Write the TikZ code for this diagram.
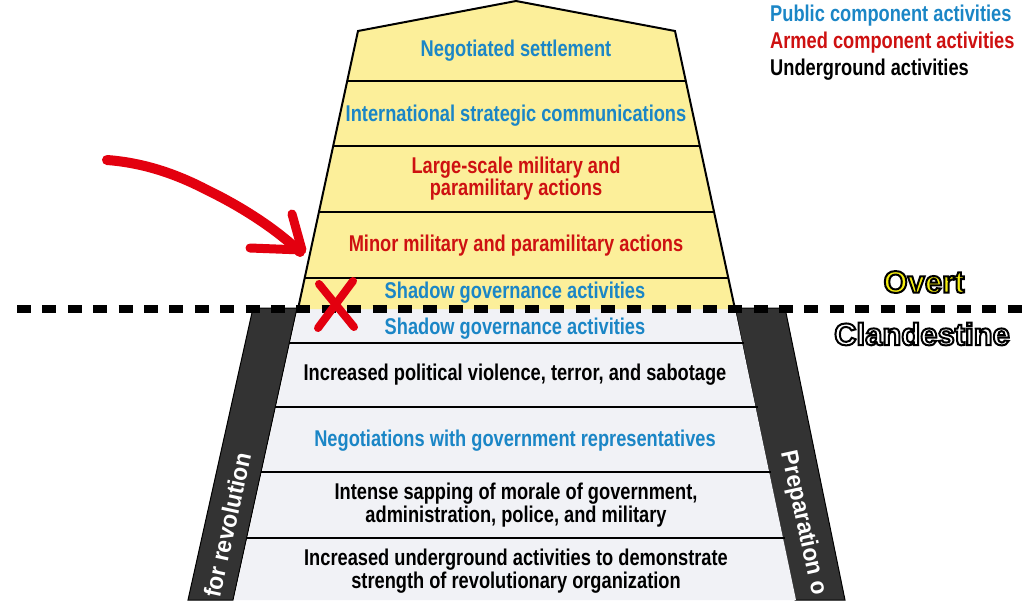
\documentclass[tikz,border=0pt]{standalone}
\usepackage{fontspec}
\setmainfont{Liberation Sans}[FakeStretch=0.8,BoldFont=Liberation Sans Bold]
\newfontfamily\bandfont{Liberation Sans Bold}[FakeStretch=0.95]
\newfontfamily\halofont{Liberation Sans Bold}[FakeStretch=1.0]
\definecolor{pubblue}{HTML}{1B86C6}
\definecolor{armred}{HTML}{CE1111}
\definecolor{inkred}{HTML}{E3000F}
\definecolor{paleyel}{HTML}{FCEF9A}
\definecolor{palegrey}{HTML}{F1F2F6}
\definecolor{darkband}{HTML}{333333}
\definecolor{ovyellow}{HTML}{F5EE10}
\newcommand{\halotext}[2]{\special{pdf:code q 2 Tr #1 w 0 0 0 RG}#2\special{pdf:code Q}}
\tikzset{
  lbl/.style={font=\bfseries\fontsize{22.8}{22.5}\selectfont,align=center,inner sep=0pt},
  pub/.style={lbl,text=pubblue},
  arm/.style={lbl,text=armred},
  und/.style={lbl,text=black},
  legend/.style={lbl,anchor=west},
  rule/.style={line width=1.6pt,black},
  bandtxt/.style={font=\bandfont\fontsize{24}{26}\selectfont,text=white,inner sep=0pt},
  halo/.style={font=\halofont\fontsize{31}{33}\selectfont,inner sep=0pt},
  inkstroke/.style={draw=inkred,line width=9pt,line cap=round,line join=round},
}
\begin{document}
\begin{tikzpicture}[x=1pt,y=-1pt]
\useasboundingbox (0,0) rectangle (1024,600);
\clip (0,0) rectangle (1024,600);
% dark bands
\fill[darkband,draw=black,line width=1pt] (253,308) -- (297,308) -- (233,600) -- (188,600) -- cycle;
\fill[darkband,draw=black,line width=1pt] (735,308) -- (785,308) -- (845,600) -- (795,600) -- cycle;
% lower body
\fill[palegrey] (298,309) -- (735,309) -- (796,600) -- (234,600) -- cycle;
% upper body
\fill[paleyel] (516,1) -- (675,31) -- (735,309) -- (298,309) -- (358,31) -- cycle;
\draw[line width=2pt,line join=miter] (298,309) -- (358,31) -- (516,1) -- (675,31) -- (735,309);
% rules
\draw[rule] (347,81) -- (686,81);
\draw[rule] (333,146) -- (700,146);
\draw[rule] (319,212) -- (714,212);
\draw[rule] (305,278) -- (728,278);
\draw[rule] (289,343) -- (744,343);
\draw[rule] (275,407) -- (758,407);
\draw[rule] (261,472) -- (771,472);
\draw[rule] (247,538) -- (785,538);
% dashed divider
\draw[line width=8pt,black,dash pattern=on 14pt off 11.4pt] (17,309) -- (1024,309);
% stage labels
\node[pub] (n1) at (516,50.5) {Negotiated settlement};
\node[pub] (n2) at (516,115.5) {International strategic communications};
\node[arm] (n3) at (516,178.5) {Large-scale military and\\paramilitary actions};
\node[arm] (n4) at (516,245.5) {Minor military and paramilitary actions};
\node[pub] (n5) at (515,292.5) {Shadow governance activities};
\node[pub] (n6) at (515,328.5) {Shadow governance activities};
\node[und] (n7) at (515,374.5) {Increased political violence, terror, and sabotage};
\node[pub] (n8) at (515,440.5) {Negotiations with government representatives};
\node[und] (n9) at (516,505) {Intense sapping of morale of government,\\administration, police, and military};
\node[und] (n10) at (516,571) {Increased underground activities to demonstrate\\strength of revolutionary organization};
% legend
\node[legend,text=pubblue] (l1) at (770,16) {Public component activities};
\node[legend,text=armred] (l2) at (770,43) {Armed component activities};
\node[legend,text=black] (l3) at (770,70) {Underground activities};
% overt / clandestine
\node[halo,text=ovyellow] (ov) at (924,282) {\halotext{2}{Overt}};
\node[halo,text=white] (cl) at (922,334) {\halotext{2}{Clandestine}};
% band texts
\node[bandtxt,rotate=77.6,anchor=east] (b1) at (243,453) {for revolution};
\node[bandtxt,rotate=-77.6,anchor=west] (b2) at (787,451) {Preparation o};
% annotation
\draw[inkstroke,line width=10pt] (107,160) .. controls (147,163) and (180,176) .. (207,190) .. controls (240,206) and (275,228) .. (300,252);
\draw[inkstroke] (292,214) -- (302,250) -- (250,248);
\draw[inkstroke,line width=8pt] (319,284) -- (354,327);
\draw[inkstroke,line width=8pt] (353,281) -- (318,328);
\end{tikzpicture}
\end{document}
